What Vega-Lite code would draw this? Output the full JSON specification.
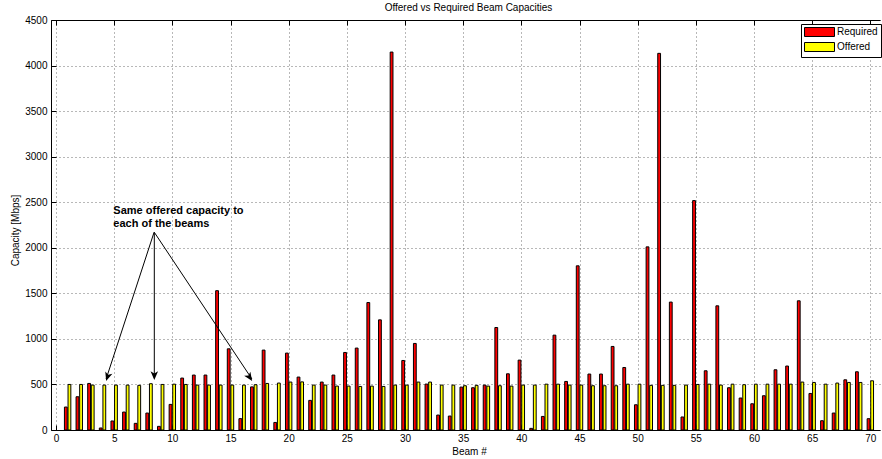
{
  "$schema": "https://vega.github.io/schema/vega-lite/v6.json",
  "autosize": {"type": "none"},
  "padding": {"left": 51, "top": 20, "right": 2, "bottom": 29},
  "width": 829,
  "height": 410,
  "title": {
    "text": "Offered vs Required Beam Capacities",
    "fontSize": 10,
    "fontWeight": "normal",
    "font": "Liberation Sans",
    "color": "black",
    "anchor": "middle",
    "dx": 3,
    "offset": -6,
    "baseline": "alphabetic"
  },
  "config": {
    "font": "Liberation Sans",
    "view": {"stroke": null},
    "axis": {
      "domainColor": "black",
      "tickColor": "black",
      "labelColor": "black",
      "titleColor": "black",
      "labelFont": "Liberation Sans",
      "titleFont": "Liberation Sans",
      "labelFontSize": 10,
      "titleFontSize": 10,
      "titleFontWeight": "normal",
      "gridColor": "#707070",
      "gridDash": [1, 3],
      "gridOpacity": 1,
      "gridWidth": 1
    }
  },
  "datasets": {
    "beams": [
      {"beam": 1, "required": 252, "offered": 500},
      {"beam": 2, "required": 365, "offered": 500},
      {"beam": 3, "required": 511, "offered": 493},
      {"beam": 4, "required": 22, "offered": 493},
      {"beam": 5, "required": 99, "offered": 493},
      {"beam": 6, "required": 197, "offered": 493},
      {"beam": 7, "required": 73, "offered": 490},
      {"beam": 8, "required": 186, "offered": 508},
      {"beam": 9, "required": 40, "offered": 500},
      {"beam": 10, "required": 281, "offered": 503},
      {"beam": 11, "required": 570, "offered": 500},
      {"beam": 12, "required": 603, "offered": 493},
      {"beam": 13, "required": 603, "offered": 493},
      {"beam": 14, "required": 1529, "offered": 493},
      {"beam": 15, "required": 891, "offered": 493},
      {"beam": 16, "required": 125, "offered": 493},
      {"beam": 17, "required": 473, "offered": 497},
      {"beam": 18, "required": 877, "offered": 511},
      {"beam": 19, "required": 83, "offered": 515},
      {"beam": 20, "required": 844, "offered": 526},
      {"beam": 21, "required": 581, "offered": 528},
      {"beam": 22, "required": 325, "offered": 493},
      {"beam": 23, "required": 526, "offered": 493},
      {"beam": 24, "required": 603, "offered": 482},
      {"beam": 25, "required": 851, "offered": 482},
      {"beam": 26, "required": 899, "offered": 478},
      {"beam": 27, "required": 1399, "offered": 482},
      {"beam": 28, "required": 1209, "offered": 478},
      {"beam": 29, "required": 4148, "offered": 493},
      {"beam": 30, "required": 763, "offered": 493},
      {"beam": 31, "required": 950, "offered": 526},
      {"beam": 32, "required": 504, "offered": 526},
      {"beam": 33, "required": 164, "offered": 493},
      {"beam": 34, "required": 153, "offered": 493},
      {"beam": 35, "required": 471, "offered": 486},
      {"beam": 36, "required": 464, "offered": 490},
      {"beam": 37, "required": 493, "offered": 482},
      {"beam": 38, "required": 1125, "offered": 486},
      {"beam": 39, "required": 617, "offered": 482},
      {"beam": 40, "required": 767, "offered": 493},
      {"beam": 41, "required": 18, "offered": 493},
      {"beam": 42, "required": 149, "offered": 503},
      {"beam": 43, "required": 1041, "offered": 503},
      {"beam": 44, "required": 533, "offered": 493},
      {"beam": 45, "required": 1802, "offered": 493},
      {"beam": 46, "required": 614, "offered": 486},
      {"beam": 47, "required": 614, "offered": 486},
      {"beam": 48, "required": 917, "offered": 486},
      {"beam": 49, "required": 686, "offered": 503},
      {"beam": 50, "required": 277, "offered": 503},
      {"beam": 51, "required": 2010, "offered": 490},
      {"beam": 52, "required": 4134, "offered": 490},
      {"beam": 53, "required": 1404, "offered": 490},
      {"beam": 54, "required": 143, "offered": 493},
      {"beam": 55, "required": 2518, "offered": 500},
      {"beam": 56, "required": 650, "offered": 503},
      {"beam": 57, "required": 1363, "offered": 493},
      {"beam": 58, "required": 464, "offered": 503},
      {"beam": 59, "required": 351, "offered": 497},
      {"beam": 60, "required": 288, "offered": 503},
      {"beam": 61, "required": 376, "offered": 503},
      {"beam": 62, "required": 661, "offered": 503},
      {"beam": 63, "required": 702, "offered": 503},
      {"beam": 64, "required": 1418, "offered": 526},
      {"beam": 65, "required": 401, "offered": 522},
      {"beam": 66, "required": 102, "offered": 503},
      {"beam": 67, "required": 186, "offered": 515},
      {"beam": 68, "required": 551, "offered": 522},
      {"beam": 69, "required": 639, "offered": 522},
      {"beam": 70, "required": 124, "offered": 540}
    ],
    "one": [{}]
  },
  "resolve": {"axis": {"x": "independent", "y": "independent"}},
  "layer": [
    {
      "data": {"name": "beams"},
      "mark": {"type": "bar", "orient": "vertical", "width": 2.8, "xOffset": -1.8, "stroke": "black", "strokeWidth": 1},
      "encoding": {
        "x": {
          "field": "beam", "type": "quantitative",
          "scale": {"domain": [0, 70.4], "nice": false, "zero": false},
          "axis": {
            "orient": "bottom", "values": [0, 5, 10, 15, 20, 25, 30, 35, 40, 45, 50, 55, 60, 65, 70],
            "format": "d", "grid": true, "tickSize": -5, "labelPadding": 8, "labelFlush": false,
            "title": "Beam #", "titleX": 418, "titleY": 16, "titleBaseline": "top", "titleAnchor": null
          }
        },
        "y": {
          "field": "required", "type": "quantitative",
          "scale": {"domain": [0, 4500], "nice": false},
          "axis": {
            "values": [0, 500, 1000, 1500, 2000, 2500, 3000, 3500, 4000, 4500],
            "format": "d", "grid": true, "tickSize": -5, "labelPadding": 9, "labelFlush": false,
            "title": "Capacity [Mbps]", "titleX": -36, "titleY": 210, "titleAngle": -90,
            "titleAlign": "center", "titleBaseline": "middle", "titleAnchor": null
          }
        },
        "color": {
          "datum": "Required", "type": "nominal",
          "scale": {"domain": ["Required", "Offered"], "range": ["#ff0000", "#ffff00"]},
          "legend": {
            "title": null, "orient": "none", "legendX": 750, "legendY": 4,
            "symbolType": "M-1,-1 L5.667,-1 L5.667,1 L-1,1 Z",
            "symbolSize": 81, "symbolStrokeColor": "black", "symbolStrokeWidth": 1,
            "symbolOpacity": 1, "labelOffset": 23, "labelFontSize": 10, "labelColor": "black",
            "labelFont": "Liberation Sans", "rowPadding": 1, "padding": 3,
            "strokeColor": "black", "fillColor": "white", "cornerRadius": 0
          }
        }
      }
    },
    {
      "data": {"name": "beams"},
      "mark": {"type": "bar", "orient": "vertical", "width": 2.8, "xOffset": 1.8, "stroke": "black", "strokeWidth": 1},
      "encoding": {
        "x": {
          "field": "beam", "type": "quantitative",
          "axis": {
            "orient": "top", "values": [0, 5, 10, 15, 20, 25, 30, 35, 40, 45, 50, 55, 60, 65, 70],
            "grid": false, "labels": false, "tickSize": -5, "title": null
          }
        },
        "y": {"field": "offered", "type": "quantitative", "axis": null},
        "color": {"datum": "Offered", "type": "nominal"}
      }
    },
    {
      "data": {"name": "one"},
      "mark": {"type": "text", "align": "left", "baseline": "alphabetic", "fontSize": 11, "fontWeight": "bold", "font": "Liberation Sans", "color": "black"},
      "encoding": {
        "x": {"datum": 4.93, "type": "quantitative", "axis": null},
        "y": {"datum": 2371, "type": "quantitative", "axis": null},
        "text": {"value": "Same offered capacity to"}
      }
    },
    {
      "data": {"name": "one"},
      "mark": {"type": "text", "align": "left", "baseline": "alphabetic", "fontSize": 11, "fontWeight": "bold", "font": "Liberation Sans", "color": "black"},
      "encoding": {
        "x": {"datum": 4.93, "type": "quantitative", "axis": null},
        "y": {"datum": 2223, "type": "quantitative", "axis": null},
        "text": {"value": "each of the beams"}
      }
    },
    {
      "data": {"name": "one"},
      "mark": {"type": "rule", "color": "black", "strokeWidth": 1},
      "encoding": {
        "x": {"datum": 8.43, "type": "quantitative", "axis": null},
        "y": {"datum": 2170, "type": "quantitative", "axis": null},
        "x2": {"datum": 4.31},
        "y2": {"datum": 560}
      }
    },
    {
      "data": {"name": "one"},
      "mark": {"type": "rule", "color": "black", "strokeWidth": 1},
      "encoding": {
        "x": {"datum": 8.45, "type": "quantitative", "axis": null},
        "y": {"datum": 2170, "type": "quantitative", "axis": null},
        "x2": {"datum": 8.45},
        "y2": {"datum": 570}
      }
    },
    {
      "data": {"name": "one"},
      "mark": {"type": "rule", "color": "black", "strokeWidth": 1},
      "encoding": {
        "x": {"datum": 8.45, "type": "quantitative", "axis": null},
        "y": {"datum": 2170, "type": "quantitative", "axis": null},
        "x2": {"datum": 16.84},
        "y2": {"datum": 560}
      }
    },
    {
      "data": {"name": "one"},
      "mark": {"type": "point", "filled": true, "color": "black", "opacity": 1, "shape": "M0,0 L-1.5,-3.5 L0,-2.6 L1.5,-3.5 Z", "size": 25, "angle": 18},
      "encoding": {
        "x": {"datum": 4.31, "type": "quantitative", "axis": null},
        "y": {"datum": 538, "type": "quantitative", "axis": null}
      }
    },
    {
      "data": {"name": "one"},
      "mark": {"type": "point", "filled": true, "color": "black", "opacity": 1, "shape": "M0,0 L-1.5,-3.5 L0,-2.6 L1.5,-3.5 Z", "size": 25, "angle": 0},
      "encoding": {
        "x": {"datum": 8.45, "type": "quantitative", "axis": null},
        "y": {"datum": 549, "type": "quantitative", "axis": null}
      }
    },
    {
      "data": {"name": "one"},
      "mark": {"type": "point", "filled": true, "color": "black", "opacity": 1, "shape": "M0,0 L-1.5,-3.5 L0,-2.6 L1.5,-3.5 Z", "size": 25, "angle": 326},
      "encoding": {
        "x": {"datum": 16.86, "type": "quantitative", "axis": null},
        "y": {"datum": 538, "type": "quantitative", "axis": null}
      }
    }
  ]
}
